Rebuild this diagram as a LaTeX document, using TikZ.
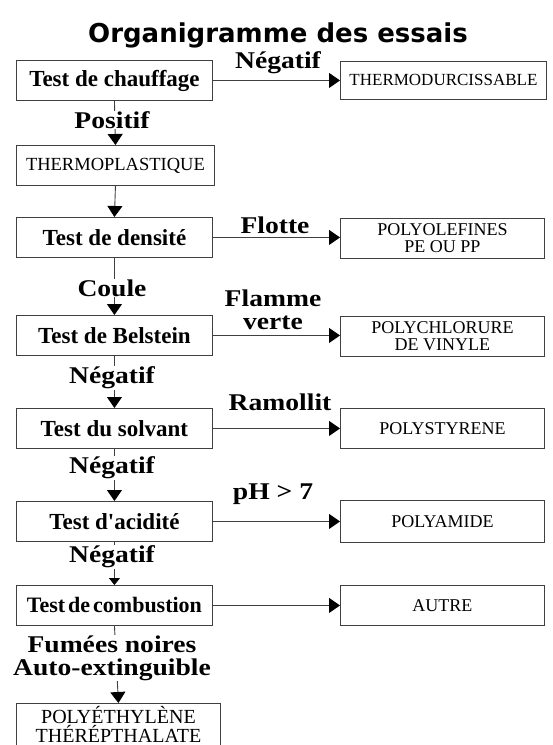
\documentclass[tikz,border=0pt]{standalone}
\usepackage{fontspec}
\setmainfont{Liberation Serif}
\newfontfamily\titlefont{DejaVu Sans}
\newfontfamily\labfont[FakeStretch=1.15]{Liberation Serif Bold}
\usetikzlibrary{arrows.meta}
\begin{document}
\begin{tikzpicture}[x=1pt,y=-1pt,
  testbox/.style={draw=black!75, line width=0.9pt, fill=white, inner sep=0pt,
    anchor=north west, minimum width=196pt, minimum height=40pt,
    font=\fontsize{23}{23}\selectfont\bfseries},
  resbox/.style={draw=black!75, line width=0.9pt, fill=white, inner sep=0pt,
    anchor=north west, minimum width=204pt, minimum height=40pt, align=center,
    font=\fontsize{18}{17}\selectfont},
  flow/.style={draw=black!75, line width=0.9pt,
    -{Triangle[width=15pt,length=11pt,color=black]}},
  lab/.style={font=\labfont\fontsize{24}{23}\selectfont, inner sep=0.5pt, align=center},
  vlab/.style={lab, fill=white}]
\useasboundingbox (0,0) rectangle (553,745);
\clip (0,0) rectangle (553,745);

% title
\node[font=\titlefont\bfseries\fontsize{26}{26}\selectfont] (title) at (278,35) {Organigramme des essais};

% left column: the tests
\node[testbox] (b1) at (16,60) {Test de chauffage};
\node[testbox, minimum width=198pt, font=\fontsize{18.5}{18}\selectfont] (b2) at (16,145) {THERMOPLASTIQUE};
\node[testbox] (b3) at (16,217) {Test de densité};
\node[testbox] (b4) at (16,315) {Test de Belstein};
\node[testbox] (b5) at (16,408) {Test du solvant};
\node[testbox] (b6) at (16,501) {Test d\textquotesingle acidité};
\node[testbox, font=\fontsize{22}{22}\selectfont\bfseries] (b7) at (16,585) {Test\hspace{3pt}de\hspace{3pt}combustion};
\node[testbox, minimum width=204pt, minimum height=42pt, align=center,
  font=\fontsize{20}{17}\selectfont] (b8) at (16,703)
  {POLYÉTHYLÈNE\\THÉRÉPTHALATE};

% right column: the results
\node[resbox, minimum width=206pt, minimum height=38pt, font=\fontsize{17}{17}\selectfont] (r1) at (340,61) {THERMODURCISSABLE};
\node[resbox] (r2) at (340,218) {POLYOLEFINES\\PE OU PP};
\node[resbox] (r3) at (340,316) {POLYCHLORURE\\DE VINYLE};
\node[resbox] (r4) at (340,408) {POLYSTYRENE};
\node[resbox, minimum height=42pt] (r5) at (340,500) {POLYAMIDE};
\node[resbox] (r6) at (340,585) {AUTRE};

% vertical chain
\draw[flow] (b1.south) -- (b2.north);
\draw[flow] (b2.south) -- (b3.north);
\draw[flow] (b3.south) -- (b4.north);
\draw[flow] (b4.south) -- (b5.north);
\draw[flow] (b5.south) -- (b6.north);
\draw[flow, -{Triangle[width=11pt,length=7pt,color=black]}] (b6.south) -- (b7.north);
\draw[flow] (b7.south) -- (b8.north);

% horizontal branches
\draw[flow] (b1.east) -- (b1.east -| r1.west);
\draw[flow] (b3.east) -- (b3.east -| r2.west);
\draw[flow] (b4.east) -- (b4.east -| r3.west);
\draw[flow] (b5.east) -- (b5.east -| r4.west);
\draw[flow] (b6.east) -- (b6.east -| r5.west);
\draw[flow] (b7.east) -- (b7.east -| r6.west);

% branch labels
\node[lab] (l1) at (278,63) {Négatif};
\node[lab] (l3) at (275,225) {Flotte};
\node[lab] (l4) at (273,310) {Flamme\\verte};
\node[lab] (l5) at (280,402) {Ramollit};
\node[lab] (l6) at (273,494) {pH > 7};

% chain labels
\node[vlab] (v1) at (112,120) {Positif};
\node[vlab] (v3) at (112,288) {Coule};
\node[vlab] (v4) at (112,378) {Négatif};
\node[vlab] (v5) at (112,468) {Négatif};
\node[vlab] (v6) at (112,557) {Négatif};
\node[vlab] (v7) at (112,658) {Fumées noires\\Auto-extinguible};
\end{tikzpicture}
\end{document}
